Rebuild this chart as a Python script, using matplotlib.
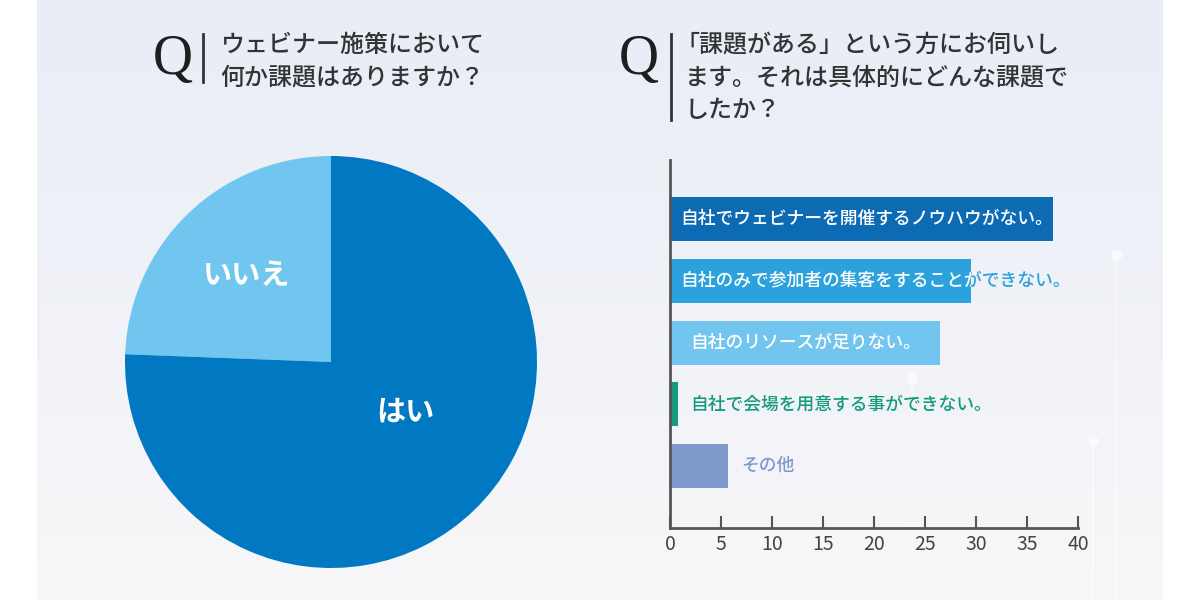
import numpy as np
import matplotlib
matplotlib.use('Agg')
import matplotlib.pyplot as plt
from matplotlib.transforms import TransformedBbox

plt.rcParams['font.family'] = ['Noto Sans CJK JP', 'DejaVu Sans']

# 円グラフ: ウェビナー施策に課題はあるか
pie_labels = ['いいえ', 'はい']
pie_values = [24.4, 75.6]
pie_colors = ['#70c6ef', '#0078c2']

# 棒グラフ: 具体的な課題
bar_labels = [
    '自社でウェビナーを開催するノウハウがない。',
    '自社のみで参加者の集客をすることができない。',
    '自社のリソースが足りない。',
    '自社で会場を用意する事ができない。',
    'その他',
]
bar_values = [37.5, 29.5, 26.5, 0.8, 5.7]
bar_colors = ['#0d6bb4', '#2ca2dd', '#72c5ee', '#159a80', '#7f99cc']
label_x = [1.0, 1.0, 2.0, 2.0, 7.0]
x_ticks = [0, 5, 10, 15, 20, 25, 30, 35, 40]

title_left = ['ウェビナー施策において', '何か課題はありますか？']
title_right = ['「課題がある」という方にお伺いし', 'ます。それは具体的にどんな課題で', 'したか？']

W, H = 1200, 600
fig = plt.figure(figsize=(12, 6), dpi=100, facecolor='white')

# 背景グラデーション
bg = fig.add_axes([37 / W, 0, (1163 - 37) / W, 1])
grad = np.linspace(0, 1, 256)[:, None]
top = np.array([0.910, 0.930, 0.965])
bot = np.array([0.972, 0.968, 0.976])
img = top[None, None, :] * (1 - grad[:, :, None]) + bot[None, None, :] * grad[:, :, None]
bg.imshow(img, aspect='auto', extent=[0, 1, 0, 1], origin='upper')
bg.set_axis_off()
# 飾りの縦線
for xl, yt in [(0.958, 0.575), (0.938, 0.265), (0.777, 0.37)]:
    bg.plot([xl, xl], [0, yt], color='white', lw=1.5, alpha=0.45)
    bg.plot([xl], [yt], 'o', color='white', ms=8, alpha=0.6, mew=0)
bg.set_xlim(0, 1)
bg.set_ylim(0, 1)


def draw_title(x_q, x_line, x_text, lines, line_bottom):
    fig.text(x_q / W, 1 - 60 / H, 'Q', family='Liberation Serif', fontsize=40,
             color='#1e1e1e', ha='left', va='center')
    fig.add_artist(plt.Line2D([x_line / W, x_line / W], [1 - 34 / H, 1 - line_bottom / H],
                              color='#333333', lw=2))
    for i, line in enumerate(lines):
        dx = -10 if line.startswith('「') else 0
        fig.text((x_text + dx) / W, 1 - (45 + 32.5 * i) / H, line, fontsize=17.3,
                 color='#333333', ha='left', va='center', fontweight='medium')


draw_title(153, 203, 220, title_left, 82)
draw_title(619, 671, 685, title_right, 120)

# 円グラフ
cx, cy, r = 331, 362, 206
ax1 = fig.add_axes([(cx - r) / W, (H - cy - r) / H, 2 * r / W, 2 * r / H])
wedges, _ = ax1.pie(pie_values, colors=pie_colors, startangle=90, counterclock=True,
                    wedgeprops=dict(linewidth=0))
ax1.set_xlim(-1, 1)
ax1.set_ylim(-1, 1)
ax1.set_aspect('equal')
ax1.text(-0.41, 0.42, pie_labels[0], color='white', fontsize=21, fontweight='bold',
         ha='center', va='center')
ax1.text(0.36, -0.24, pie_labels[1], color='white', fontsize=21, fontweight='bold',
         ha='center', va='center')

# 棒グラフ
ax2 = fig.add_axes([670 / W, 72 / H, 408 / W, 368 / H])
ax2.patch.set_alpha(0)
y = np.arange(len(bar_values))
bars = ax2.barh(y, bar_values, height=0.71, color=bar_colors, linewidth=0)
ax2.set_xlim(0, 40)
ax2.set_ylim(5.0, -0.955)
for i, (b, lab) in enumerate(zip(bars, bar_labels)):
    ax2.text(label_x[i], i, lab, color=bar_colors[i], fontsize=12.8, fontweight='medium',
             ha='left', va='center', clip_on=False)
    t = ax2.text(label_x[i], i, lab, color='white', fontsize=12.8, fontweight='medium',
                 ha='left', va='center')
    t.set_clip_box(TransformedBbox(b.get_bbox(), ax2.transData))
    t.set_clip_on(True)

for s in ['top', 'right']:
    ax2.spines[s].set_visible(False)
for s in ['left', 'bottom']:
    ax2.spines[s].set_color('#555555')
    ax2.spines[s].set_linewidth(2)
ax2.set_yticks([])
ax2.set_xticks(x_ticks)
ax2.tick_params(axis='x', direction='in', length=9, width=1.5, color='#555555',
                labelsize=14, labelcolor='#444444', pad=4)

fig.savefig('out.png', dpi=100, facecolor='white')
